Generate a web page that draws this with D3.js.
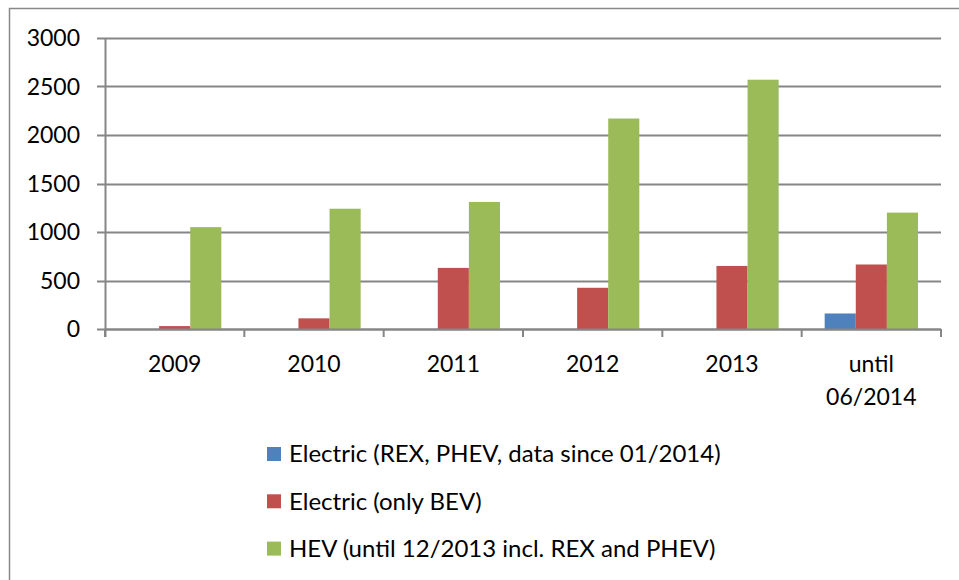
<!DOCTYPE html>
<html>
<head>
<meta charset="utf-8">
<script src="https://cdn.jsdelivr.net/npm/d3@7"></script>
<style>
  body { margin: 0; background: #fff; }
  text { font-family: Lato, "Open Sans", sans-serif; fill: #000; }
</style>
</head>
<body>
<div id="chart"></div>
<script>
// chart data
var categories = ["2009", "2010", "2011", "2012", "2013", "until 06/2014"];
var seriesNames = [
  "Electric (REX, PHEV, data since 01/2014)",
  "Electric (only BEV)",
  "HEV (until 12/2013 incl. REX and PHEV)"
];
var electricRexPhev = [0, 0, 0, 0, 0, 160];
var electricBev = [30, 110, 630, 425, 650, 665];
var hev = [1050, 1240, 1310, 2170, 2570, 1200];
var yTicks = [0, 500, 1000, 1500, 2000, 2500, 3000];
var colors = ["#4f81bd", "#c0504d", "#9bbb59"];

var width = 959, height = 580;
var margin = {left: 105, right: 18, top: 38, bottom: 251}; // plot area

var svg = d3.select("#chart").append("svg")
  .attr("width", width)
  .attr("height", height);

// outer frame (runs off right/bottom edge)
svg.append("rect")
  .attr("x", 9.5).attr("y", 8.5)
  .attr("width", width + 10).attr("height", height + 10)
  .attr("fill", "none")
  .attr("stroke", "#888").attr("stroke-width", 1.5);

var x0 = d3.scaleBand()
  .domain(categories)
  .range([margin.left, width - margin.right])
  .paddingInner(0).paddingOuter(0);

var x1 = d3.scaleBand()
  .domain([0, 1, 2])
  .range([0, x0.bandwidth()])
  .paddingInner(0).paddingOuter(0.74);

var y = d3.scaleLinear()
  .domain([0, 3000])
  .range([height - margin.bottom, margin.top]);

// gridlines
svg.append("g").selectAll("line")
  .data(yTicks)
  .enter().append("line")
  .attr("x1", margin.left - 8)
  .attr("x2", width - margin.right)
  .attr("y1", function(d) { return Math.round(y(d)) + 0.5; })
  .attr("y2", function(d) { return Math.round(y(d)) + 0.5; })
  .attr("stroke", "#868686").attr("stroke-width", 2);

// y labels
svg.append("g").selectAll("text")
  .data(yTicks)
  .enter().append("text")
  .attr("x", 80)
  .attr("y", function(d) { return y(d); })
  .attr("dy", "0.35em")
  .attr("text-anchor", "end")
  .style("font-size", "23px")
  .text(function(d) { return d; });

// bars
var seriesData = [electricRexPhev, electricBev, hev];
var groups = svg.append("g").selectAll("g")
  .data(categories)
  .enter().append("g")
  .attr("transform", function(d) { return "translate(" + x0(d) + ",0)"; });

groups.selectAll("rect")
  .data(function(d, i) { return seriesData.map(function(s, k) { return {k: k, v: s[i]}; }); })
  .enter().append("rect")
  .attr("x", function(d) { return x1(d.k); })
  .attr("width", x1.bandwidth())
  .attr("y", function(d) { return y(d.v); })
  .attr("height", function(d) { return y(0) - y(d.v); })
  .attr("fill", function(d) { return colors[d.k]; });

// y axis line
svg.append("line")
  .attr("x1", margin.left + 0.5).attr("x2", margin.left + 0.5)
  .attr("y1", margin.top).attr("y2", y(0) + 8)
  .attr("stroke", "#868686").attr("stroke-width", 2);

// x axis line and ticks
svg.append("line")
  .attr("x1", margin.left).attr("x2", width - margin.right)
  .attr("y1", Math.round(y(0)) + 0.5).attr("y2", Math.round(y(0)) + 0.5)
  .attr("stroke", "#868686").attr("stroke-width", 2);

var tickXs = categories.map(function(c) { return x0(c); }).concat([width - margin.right]);
svg.append("g").selectAll("line")
  .data(tickXs)
  .enter().append("line")
  .attr("x1", function(d) { return d; }).attr("x2", function(d) { return d; })
  .attr("y1", y(0)).attr("y2", y(0) + 8)
  .attr("stroke", "#868686").attr("stroke-width", 2);

// x labels
var xl = svg.append("g").selectAll("text")
  .data(categories)
  .enter().append("text")
  .attr("x", function(d) { return x0(d) + x0.bandwidth() / 2; })
  .attr("y", 372)
  .attr("text-anchor", "middle")
  .style("font-size", "23px");
xl.each(function(d) {
  var parts = d.indexOf("until") === 0 ? ["until", d.slice(6)] : [d];
  var t = d3.select(this);
  parts.forEach(function(p, i) {
    t.append("tspan")
      .attr("x", x0(d) + x0.bandwidth() / 2)
      .attr("dy", i === 0 ? 0 : 33)
      .text(p);
  });
});

// legend
var legend = svg.append("g").selectAll("g")
  .data(seriesNames)
  .enter().append("g")
  .attr("transform", function(d, i) { return "translate(267," + (447 + i * 47.3) + ")"; });

legend.append("rect")
  .attr("width", 14).attr("height", 14)
  .attr("fill", function(d, i) { return colors[i]; });

legend.append("text")
  .attr("x", 22).attr("y", 7)
  .attr("dy", "0.35em")
  .style("font-size", "24px")
  .text(function(d) { return d; });
</script>
</body>
</html>
